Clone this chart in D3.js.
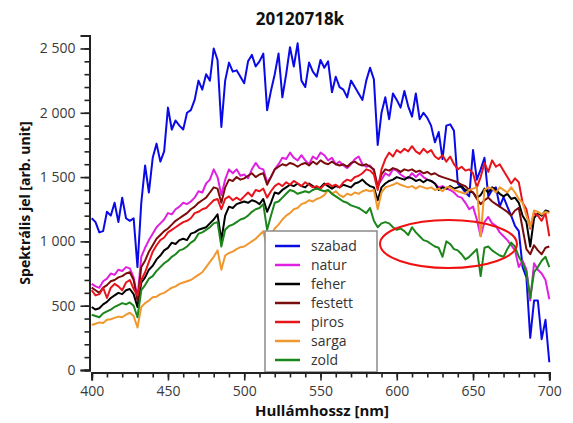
<!DOCTYPE html>
<html>
<head>
<meta charset="utf-8">
<script src="https://cdn.jsdelivr.net/npm/d3@7"></script>
<style>
  html, body { margin: 0; padding: 0; background: #fff; }
  svg { display: block; }
  text { font-family: "Open Sans", "DejaVu Sans", sans-serif; }
</style>
</head>
<body>
<svg id="chart" width="573" height="423"></svg>
<script>
const title = "20120718k";
const xTitle = "Hullámhossz [nm]";
const yTitle = "Spektrális jel [arb. unit]";
const xTicks = [400, 450, 500, 550, 600, 650, 700];
const yTicks = [0, 500, 1000, 1500, 2000, 2500];

const wavelengths = [
  400,402.5,405,407.5,410,412.5,415,417.5,420,422.5,
  425,427.5,430,432.5,435,437.5,440,442.5,445,447.5,
  450,452.5,455,457.5,460,462.5,465,467.5,470,472.5,
  475,477.5,480,482.5,485,487.5,490,492.5,495,497.5,
  500,502.5,505,507.5,510,512.5,515,517.5,520,522.5,
  525,527.5,530,532.5,535,537.5,540,542.5,545,547.5,
  550,552.5,555,557.5,560,562.5,565,567.5,570,572.5,
  575,577.5,580,582.5,585,587.5,590,592.5,595,597.5,
  600,602.5,605,607.5,610,612.5,615,617.5,620,622.5,
  625,627.5,630,632.5,635,637.5,640,642.5,645,647.5,
  650,652.5,655,657.5,660,662.5,665,667.5,670,672.5,
  675,677.5,680,682.5,685,687.5,690,692.5,695,697.5,
  700];

const szabad = [
  1180,1150,1070,1080,1230,1200,1300,1150,1340,1180,
  1160,1180,800,1300,1590,1380,1650,1760,1620,1700,
  2040,1870,1940,1900,1870,2000,2020,2100,2250,2180,
  2300,2250,2500,2410,1890,2250,2390,2320,2330,2280,
  2230,2400,2450,2360,2400,2460,2020,2170,2300,2460,
  2120,2300,2510,2360,2540,2250,2200,2390,2320,2280,
  2410,2350,2400,2160,2280,2200,2180,2120,2250,2200,
  2150,2100,2250,2350,2260,1750,2000,2120,1950,2150,
  2100,2040,2170,2050,1970,2150,1950,2000,1960,1900,
  1770,1850,1640,1900,1910,1860,1450,1420,1380,1350,
  1710,1480,1560,1650,1350,1400,1420,1270,1345,1270,
  1200,1120,1080,800,720,250,540,540,240,390,
  60];
const natur = [
  670,650,640,690,710,750,740,780,770,800,
  790,720,560,880,950,1010,1060,1110,1140,1170,
  1220,1210,1250,1270,1300,1290,1310,1340,1390,1380,
  1450,1480,1560,1500,1360,1480,1560,1530,1560,1510,
  1520,1490,1560,1610,1570,1560,1460,1500,1560,1600,
  1650,1640,1690,1650,1630,1670,1630,1600,1660,1640,
  1690,1670,1630,1650,1600,1620,1590,1570,1600,1640,
  1660,1600,1580,1590,1550,1430,1480,1530,1510,1560,
  1550,1520,1500,1490,1530,1500,1530,1500,1480,1470,
  1450,1420,1430,1410,1400,1380,1350,1340,1300,1250,
  1270,1170,1040,1150,1190,1140,1120,1070,1040,1010,
  970,930,800,850,780,540,830,780,750,700,
  550];
const feher = [
  490,470,480,510,530,560,580,600,590,620,
  630,590,490,680,720,780,810,860,890,930,
  950,990,980,1010,1020,1010,1060,1070,1090,1100,
  1110,1140,1170,1210,1010,1200,1270,1260,1290,1300,
  1310,1300,1320,1310,1290,1330,1230,1300,1380,1370,
  1400,1420,1440,1430,1450,1430,1420,1450,1430,1410,
  1420,1450,1430,1410,1430,1420,1440,1430,1420,1450,
  1460,1480,1450,1430,1420,1320,1420,1450,1470,1480,
  1500,1490,1480,1500,1490,1470,1480,1460,1480,1470,
  1450,1400,1420,1410,1430,1410,1420,1430,1400,1390,
  1380,1340,1360,1410,1380,1420,1400,1370,1350,1370,
  1330,1340,1300,1200,1150,960,1180,1220,1200,1240,
  1230];
const festett = [
  640,620,600,640,660,690,700,720,730,750,
  760,700,540,800,850,920,970,1020,1050,1080,
  1100,1130,1160,1180,1200,1220,1250,1270,1300,1320,
  1340,1380,1420,1410,1300,1420,1480,1470,1500,1480,
  1490,1510,1530,1500,1520,1530,1440,1500,1560,1580,
  1600,1590,1610,1600,1580,1600,1610,1590,1620,1600,
  1630,1610,1600,1620,1600,1590,1600,1580,1610,1620,
  1600,1590,1600,1580,1560,1420,1520,1560,1550,1570,
  1560,1540,1560,1550,1560,1540,1550,1530,1540,1520,
  1530,1510,1500,1490,1480,1470,1460,1440,1430,1400,
  1380,1330,1290,1320,1340,1310,1290,1270,1250,1230,
  1200,1240,1260,1100,940,900,970,930,900,950,
  960];
const piros = [
  620,580,590,640,560,640,670,650,620,680,
  700,630,580,700,760,840,920,970,1010,1030,
  1070,1090,1110,1130,1150,1160,1180,1220,1230,1250,
  1260,1290,1320,1330,1250,1330,1350,1320,1340,1320,
  1350,1380,1350,1400,1390,1410,1340,1390,1430,1450,
  1430,1460,1440,1470,1450,1430,1460,1440,1420,1430,
  1410,1440,1450,1430,1440,1420,1460,1480,1470,1500,
  1510,1530,1560,1550,1520,1400,1560,1640,1690,1660,
  1710,1690,1720,1700,1740,1700,1680,1720,1690,1710,
  1660,1640,1670,1620,1660,1600,1560,1580,1550,1560,
  1530,1420,1500,1610,1540,1630,1580,1600,1550,1500,
  1450,1490,1460,1300,1250,1100,1220,1200,1160,1220,
  1040];
const sarga = [
  350,360,370,365,390,395,405,415,410,430,
  445,420,330,490,520,540,565,570,590,600,
  620,640,650,670,680,690,700,720,740,760,
  800,840,880,930,780,890,910,920,940,955,
  960,980,1000,1020,1050,1080,950,1050,1100,1130,
  1170,1200,1220,1250,1260,1290,1300,1320,1310,1330,
  1340,1360,1400,1370,1390,1360,1345,1370,1360,1380,
  1370,1390,1400,1390,1400,1250,1380,1420,1430,1440,
  1455,1440,1430,1420,1430,1410,1430,1420,1410,1420,
  1400,1410,1390,1420,1420,1400,1390,1380,1370,1400,
  1410,1420,1040,1400,1420,1410,1380,1420,1400,1380,
  1420,1380,1330,1300,1200,1110,1240,1230,1210,1230,
  1220];
const zold = [
  430,420,410,440,455,470,490,505,520,510,
  525,500,410,620,660,710,730,770,800,830,
  850,880,900,930,940,960,990,1010,1060,1070,
  1090,1110,1140,1150,960,1090,1120,1130,1150,1170,
  1180,1200,1230,1250,1260,1290,1090,1200,1300,1310,
  1340,1370,1400,1390,1370,1380,1390,1380,1400,1410,
  1400,1390,1400,1370,1350,1330,1310,1300,1280,1270,
  1260,1240,1220,1260,1160,1110,1140,1150,1140,1110,
  1090,1100,1080,1050,1110,1070,1040,1010,1000,980,
  960,950,880,1000,980,940,930,900,860,880,
  910,940,730,950,960,930,910,890,880,940,
  990,960,880,830,760,560,760,800,850,880,
  800];

const seriesNames = ["szabad", "natur", "feher", "festett", "piros", "sarga", "zold"];
const seriesValues = [szabad, natur, feher, festett, piros, sarga, zold];
const seriesColors = ["#0a0ae6", "#e020e0", "#000000", "#7a0c0c", "#e8141c", "#f0982e", "#1c861c"];

const svg = d3.select("#chart");

const x = d3.scaleLinear().domain([400, 700]).range([91.7, 549.3]);
const y = d3.scaleLinear().domain([0, 2600]).range([370, 35.6]);

const loc = d3.formatLocale({decimal: ".", thousands: " ", grouping: [3], currency: ["", ""]});
const fmt = loc.format(",d");

// lines
const line = d3.line()
  .defined((d, i) => wavelengths[i] !== undefined && d != null)
  .x((d, i) => x(wavelengths[i])).y(d => y(d));
const plot = svg.append("g");
seriesValues.forEach((vals, k) => {
  plot.append("path")
    .attr("d", line(vals))
    .attr("fill", "none")
    .attr("stroke", seriesColors[k])
    .attr("stroke-width", 2)
    .attr("stroke-linejoin", "round");
});

// legend
const lg = svg.append("g");
lg.append("rect").attr("x", 265).attr("y", 231).attr("width", 112).attr("height", 141)
  .attr("fill", "#fff").attr("stroke", "#8a8a8a").attr("stroke-width", 1.5);
seriesNames.forEach((name, k) => {
  const cy = 246 + k * 19;
  lg.append("line").attr("x1", 275).attr("x2", 300).attr("y1", cy).attr("y2", cy)
    .attr("stroke", seriesColors[k]).attr("stroke-width", 2.5);
  lg.append("text").attr("x", 311).attr("y", cy).attr("dy", "0.35em")
    .attr("font-size", 14).attr("fill", "#333").text(name);
});

// annotation ellipse
svg.append("ellipse").attr("cx", 448.5).attr("cy", 244).attr("rx", 68.5).attr("ry", 24)
  .attr("fill", "none").attr("stroke", "#f01010").attr("stroke-width", 2);

// axes
const yAxisG = svg.append("g").attr("transform", "translate(89.5,0)");
yAxisG.call(d3.axisLeft(y).tickValues(d3.range(0, 2601, 100)).tickSize(5).tickFormat(""));
yAxisG.call(g => g.append("g").call(d3.axisLeft(y).tickValues(yTicks).tickSize(9).tickPadding(5).tickFormat(fmt)));
yAxisG.selectAll(".domain").attr("stroke", "#222").attr("stroke-width", 2);
yAxisG.selectAll(".tick line").attr("stroke", "#222").attr("stroke-width", 1.6);
yAxisG.selectAll("text").attr("font-size", 14).attr("fill", "#3a3a3a")
  .style("font-family", "'Open Sans', sans-serif");

const xAxisG = svg.append("g").attr("transform", "translate(0,372.5)");
xAxisG.call(d3.axisBottom(x).tickValues(d3.range(400, 701, 10)).tickSize(5).tickFormat(""));
xAxisG.call(g => g.append("g").call(d3.axisBottom(x).tickValues(xTicks).tickSize(8).tickPadding(6).tickFormat(d3.format("d"))));
xAxisG.selectAll(".domain").attr("stroke", "#222").attr("stroke-width", 2);
xAxisG.selectAll(".tick line").attr("stroke", "#222").attr("stroke-width", 1.6);
xAxisG.selectAll("text").attr("font-size", 14).attr("fill", "#3a3a3a")
  .style("font-family", "'Open Sans', sans-serif");

// titles
svg.append("text").attr("x", 300).attr("y", 25).attr("text-anchor", "middle")
  .attr("font-size", 17).attr("font-weight", "bold").attr("fill", "#111").text(title);
svg.append("text").attr("x", 322).attr("y", 416).attr("text-anchor", "middle")
  .attr("font-size", 15).attr("font-weight", "bold").attr("fill", "#111").text(xTitle);
svg.append("text").attr("transform", "translate(30,203) rotate(-90)").attr("text-anchor", "middle")
  .attr("font-size", 14).attr("font-weight", "bold").attr("fill", "#111").text(yTitle);
</script>
</body>
</html>
